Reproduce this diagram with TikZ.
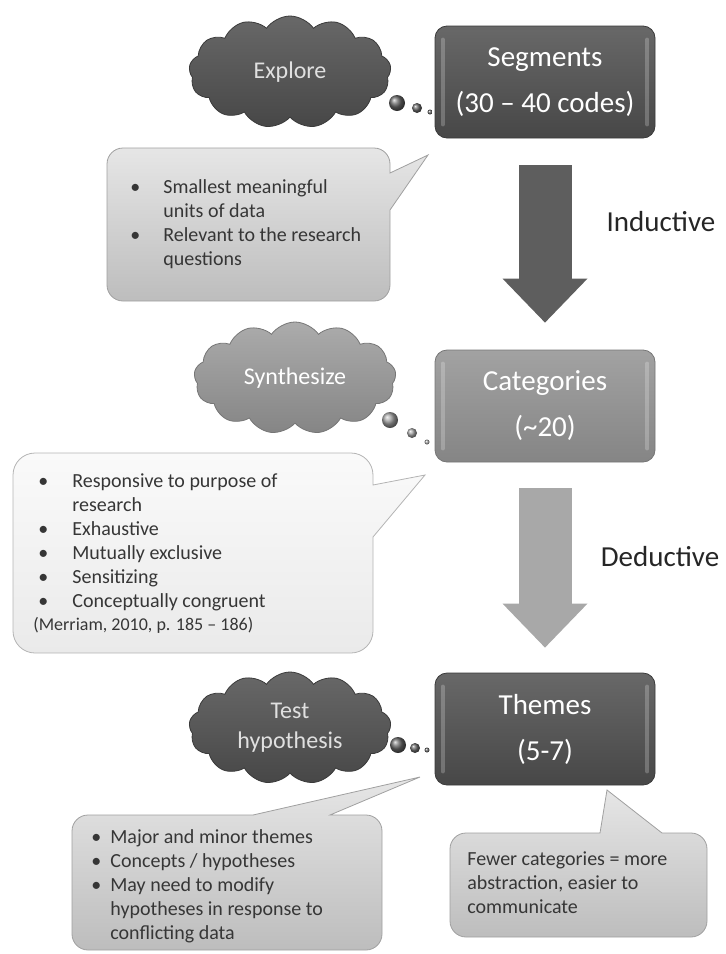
\documentclass[tikz,border=0pt]{standalone}
\usepackage{fontspec}
\setmainfont{Carlito}
\usetikzlibrary{shapes.symbols,arrows.meta}
\definecolor{darktop}{HTML}{686868}
\definecolor{darkbot}{HTML}{474747}
\definecolor{darkedge}{HTML}{3A3A3A}
\definecolor{midtop}{HTML}{A2A2A2}
\definecolor{midbot}{HTML}{858585}
\definecolor{midedge}{HTML}{767676}
\definecolor{arrdark}{HTML}{5E5E5E}
\definecolor{arrlight}{HTML}{A8A8A8}
\definecolor{notetop}{HTML}{E6E6E6}
\definecolor{notebot}{HTML}{BDBDBD}
\definecolor{noteedge}{HTML}{A0A0A0}
\definecolor{paletop}{HTML}{FAFAFA}
\definecolor{palebot}{HTML}{EAEAEA}
\definecolor{paleedge}{HTML}{B4B4B4}
\definecolor{notetext}{HTML}{363636}

\begin{document}
\begin{tikzpicture}[x=0.5pt,y=-0.5pt,
  stage/.style={rounded corners=6pt, minimum width=110pt, minimum height=56pt,
    inner sep=0pt, align=center, text=white, font=\fontsize{14.5}{23}\selectfont},
  stagedark/.style={stage, draw=darkedge, top color=darktop, bottom color=darkbot},
  stagemid/.style={stage, draw=midedge, top color=midtop, bottom color=midbot},
  thought/.style={cloud, cloud puffs=13, cloud puff arc=110, cloud ignores aspect,
    minimum width=101pt, minimum height=56pt, inner sep=0pt, align=center,
    font=\fontsize{12}{15}\selectfont},
  thoughtdark/.style={thought, draw=darkedge, top color=darktop, bottom color=darkbot, text=white!88!black},
  thoughtmid/.style={thought, draw=midedge, top color=midtop!90!white, bottom color=midbot, text=white},
  bigarrow/.style={line width=26.5pt, -{Triangle[width=42.5pt,length=22pt,line width=0pt]}},
  notegrey/.style={draw=noteedge, top color=notetop, bottom color=notebot},
  notepale/.style={draw=paleedge, top color=paletop, bottom color=palebot},
  notetxt/.style={inner sep=0pt, anchor=north west, align=left, text=notetext,
    font=\fontsize{10}{12}\selectfont},
  sidelabel/.style={font=\fontsize{14.5}{17}\selectfont, text=black!85}
]
\useasboundingbox (0,0) rectangle (726,954);

\draw[notegrey] (250,148) [rounded corners=8pt] -- (390,148) [sharp corners]
  -- (390,173) -- (428,155) -- (390,210) [rounded corners=8pt]
  -- (390,301) -- (107,301) -- (107,148) -- cycle;
\draw[notepale] (200,453) [rounded corners=11pt] -- (373,453) [sharp corners]
  -- (373,485) -- (425,475) -- (373,537) [rounded corners=11pt]
  -- (373,653) -- (13,653) -- (13,453) -- cycle;
\draw[notegrey] (150,815) -- (253,815) -- (420,777) -- (330,815) [rounded corners=8pt]
  -- (382,815) -- (382,950) -- (72,950) -- (72,815) -- cycle;
\draw[notegrey] (500,833) -- (600,833) -- (607,790) -- (662,833) [rounded corners=8pt]
  -- (707,833) -- (707,937) -- (450,937) -- (450,833) -- cycle;

\node[stagedark] (seg) at (545,82) {Segments\\(30 -- 40 codes)};
\node[stagemid] (cat) at (545,406) {Categories\\(\textasciitilde20)};
\node[stagedark] (them) at (545,729) {Themes\\(5-7)};
\foreach \b in {seg,cat,them}{
  \draw[white, opacity=0.22, line width=2pt, line cap=round]
    ([xshift=4pt,yshift=-7pt]\b.north west) -- ([xshift=4pt,yshift=7pt]\b.south west);
  \draw[white, opacity=0.22, line width=2pt, line cap=round]
    ([xshift=-4pt,yshift=-7pt]\b.north east) -- ([xshift=-4pt,yshift=7pt]\b.south east);
}

\draw[bigarrow, arrdark, shorten <=13.5pt, shorten >=13.5pt] (seg.south) -- (cat.north);
\draw[bigarrow, arrlight, shorten <=13pt, shorten >=12.5pt] (cat.south) -- (them.north);
\node[sidelabel] (ind) at (661,222) {Inductive};
\node[sidelabel] (ded) at (660,557) {Deductive};

\node[thoughtdark] (explore) at (290,72) {Explore};
\node[thoughtmid] (synth) at (295,378) {Synthesize};
\node[thoughtdark] (test) at (290,728) {Test\\hypothesis};

\shade[ball color=darktop] (397,103) circle (8);
\shade[ball color=darktop] (417,108) circle (5);
\shade[ball color=darktop] (430,112) circle (2.5);
\shade[ball color=midtop] (390,420) circle (8);
\shade[ball color=midtop] (412,433) circle (5);
\shade[ball color=midtop] (427,442) circle (2.5);
\shade[ball color=darktop] (398,745) circle (8);
\shade[ball color=darktop] (415,748) circle (5);
\shade[ball color=darktop] (427,750) circle (2.5);

\node[notetxt] (units) at (130,176) {\begin{tabular}{@{}p{16.5pt}@{}l@{}}
  \textbullet & Smallest meaningful\\ & units of data\\
  \textbullet & Relevant to the research\\ & questions\end{tabular}};
\node[notetxt] (crit) at (38,470) {\begin{tabular}{@{}p{17pt}@{}l@{}}
  \textbullet & Responsive to purpose of\\ & research\\
  \textbullet & Exhaustive\\ \textbullet & Mutually exclusive\\
  \textbullet & Sensitizing\\ \textbullet & Conceptually congruent\end{tabular}};
\node[notetxt, anchor=west, font=\fontsize{9}{11}\selectfont] (cite) at (33,625)
  {(Merriam, 2010, p. 185 -- 186)};
\node[notetxt] (major) at (91,826) {\begin{tabular}{@{}p{9.5pt}@{}l@{}}
  \textbullet & Major and minor themes\\ \textbullet & Concepts / hypotheses\\
  \textbullet & May need to modify\\ & hypotheses in response to\\
  & conflicting data\end{tabular}};
\node[notetxt] (fewer) at (467,851) {Fewer categories = more\\abstraction, easier to\\communicate};
\end{tikzpicture}
\end{document}
